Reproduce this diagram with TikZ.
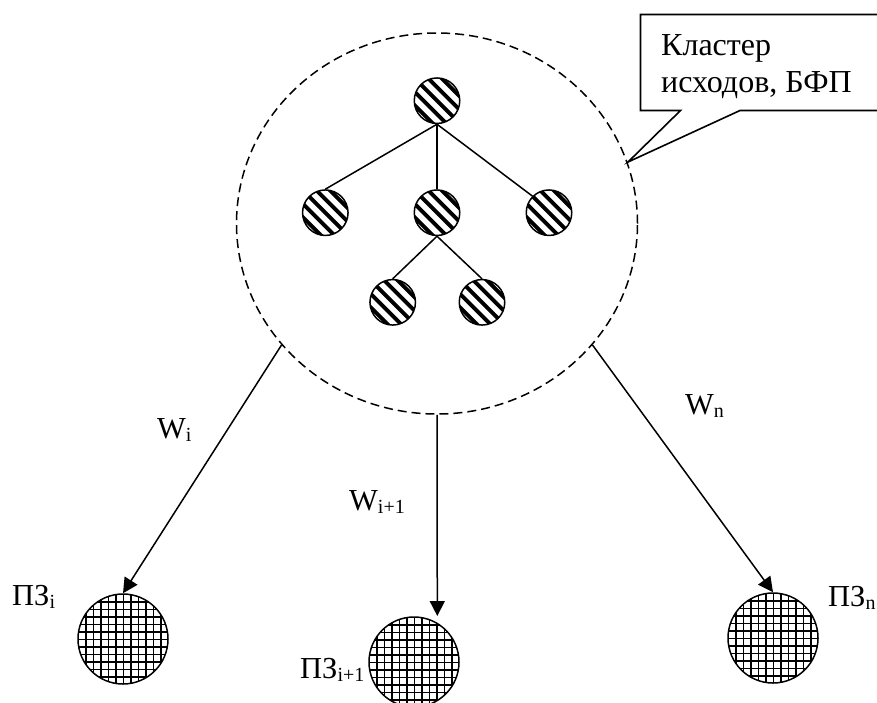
\documentclass[tikz,border=0pt]{standalone}
\usepackage{fontspec}
\setmainfont{Liberation Serif}
\usetikzlibrary{calc,arrows.meta,shapes.geometric}
\newcommand{\lowtext}[1]{\raisebox{-3.5pt}{\fontsize{20}{20}\selectfont #1}}
\newcommand{\stripefill}{%
  \foreach \k in {-5,...,5} {
    \draw[line width=3.9pt] ($(path picture bounding box.center)+(\k*13.5-30,-30)$) -- ++(60,60);
  }}
\newcommand{\gridfill}{%
  \foreach \k in {-7,...,7} {
    \draw[line width=1.7pt] ($(path picture bounding box.center)+(\k*7.5+0.5,-50)$) -- ++(0,100);
    \draw[line width=1.7pt] ($(path picture bounding box.center)+(-50,\k*7.5+0.5)$) -- ++(100,0);
  }}
\tikzset{
  x=1pt,y=-1pt,
  stripedot/.style={circle,draw,line width=1.5pt,minimum size=45.5pt,inner sep=0pt,path picture={\stripefill}},
  griddot/.style={circle,draw,line width=1.5pt,minimum size=90pt,inner sep=0pt,path picture={\gridfill}},
  clusterring/.style={ellipse,draw,dash pattern=on 9pt off 5pt,line width=1.5pt,minimum width=401pt,minimum height=381pt,inner sep=0pt},
  edgeline/.style={line width=1.5pt},
  arrowline/.style={line width=1.5pt,-{Triangle[length=15pt,width=15pt]}},
  label/.style={inner sep=0pt,anchor=base west,font=\fontsize{30.5}{36}\selectfont},
  calltext/.style={inner sep=0pt,anchor=base west,font=\fontsize{32}{36}\selectfont},
}
\begin{document}
\begin{tikzpicture}
\useasboundingbox (0,0) rectangle (877,702);
\node[clusterring] (cluster) at (437,223.5) {};
\node[stripedot] (n1) at (437,100.7) {};
\node[stripedot] (n2) at (325.3,212.7) {};
\node[stripedot] (n3) at (437,212.7) {};
\node[stripedot] (n4) at (549,212.7) {};
\node[stripedot] (n5) at (392.7,302.3) {};
\node[stripedot] (n6) at (482,302.3) {};
\draw[edgeline] (n1.south) -- (n2.north);
\draw[edgeline] (n1.south) -- (n3.north);
\draw[edgeline] (n1.south) -- (n4.north west);
\draw[edgeline] (n3.south) -- (n5.north);
\draw[edgeline] (n3.south) -- (n6.north);
\node[griddot] (p1) at (123,639) {};
\node[griddot] (p2) at (414,662) {};
\node[griddot] (p3) at (773,638) {};
\coordinate (a2) at (437.3,616);
\draw[arrowline] (cluster.-142.1) -- (p1.north);
\draw[arrowline] (cluster.south) -- (a2);
\draw[arrowline] (cluster.-38.1) -- (p3.north);
\coordinate (c1) at (885,14.5);
\coordinate (c2) at (885,110.5);
\coordinate (tip) at (628,162);
\draw[line width=1.6pt,fill=white] (c1) -- (640.5,14.5) -- (640.5,110.5) -- (680.5,110.5) -- (tip) -- (740,110.5) -- (c2);
\node[calltext] (call1) at (661,55) {Кластер};
\node[calltext] (call2) at (661,92) {исходов, БФП};
\node[label] (w1) at (157,438) {W\lowtext{i}};
\node[label] (w2) at (349,510) {W\lowtext{i+1}};
\node[label] (w3) at (685,414) {W\lowtext{n}};
\node[label] (z1) at (12,605) {ПЗ\lowtext{i}};
\node[label] (z2) at (300,678) {ПЗ\lowtext{i+1}};
\node[label] (z3) at (828,606) {ПЗ\lowtext{n}};
\end{tikzpicture}
\end{document}
